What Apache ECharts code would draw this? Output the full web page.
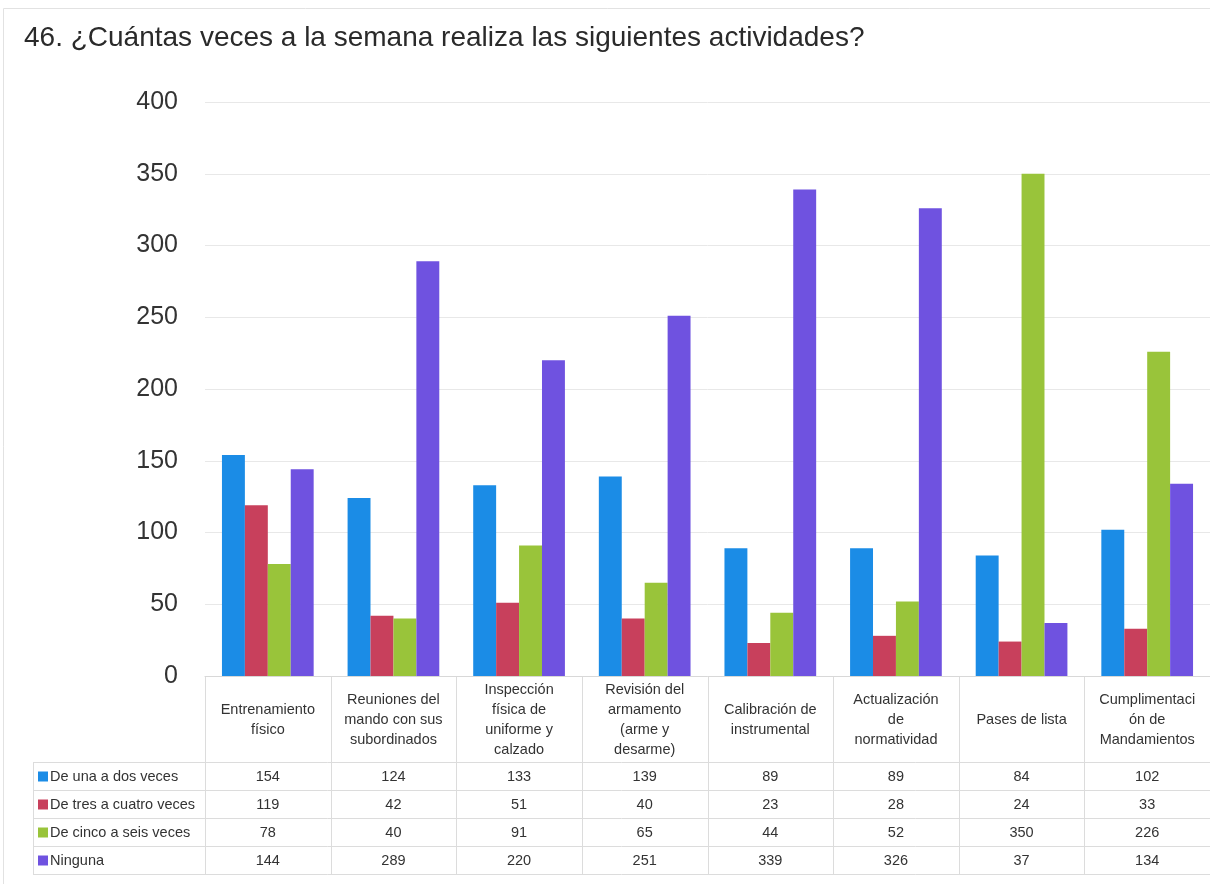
<!DOCTYPE html>
<html>
<head>
<meta charset="utf-8">
<script src="https://cdn.jsdelivr.net/npm/echarts@6/dist/echarts.min.js"></script>
<style>
html,body{margin:0;padding:0;background:#fff;}
#chart{width:1210px;height:884px;}
</style>
</head>
<body>
<div id="chart"></div>
<script>
const titleText = '46. ¿Cuántas veces a la semana realiza las siguientes actividades?';
const categories = [
  'Entrenamiento\nfísico',
  'Reuniones del\nmando con sus\nsubordinados',
  'Inspección\nfísica de\nuniforme y\ncalzado',
  'Revisión del\narmamento\n(arme y\ndesarme)',
  'Calibración de\ninstrumental',
  'Actualización\nde\nnormatividad',
  'Pases de lista',
  'Cumplimentaci\nón de\nMandamientos'
];
const seriesNames = ['De una a dos veces', 'De tres a cuatro veces', 'De cinco a seis veces', 'Ninguna'];
const unaADos = [154, 124, 133, 139, 89, 89, 84, 102];
const tresACuatro = [119, 42, 51, 40, 23, 28, 24, 33];
const cincoASeis = [78, 40, 91, 65, 44, 52, 350, 226];
const ninguna = [144, 289, 220, 251, 339, 326, 37, 134];
const yTicks = [0, 50, 100, 150, 200, 250, 300, 350, 400];

const allValues = [unaADos, tresACuatro, cincoASeis, ninguna];
const colors = ['#1b8ce6', '#c8405c', '#99c43a', '#6f52e0'];
const FONT = '"Liberation Sans", Arial, sans-serif';

const chart = echarts.init(document.getElementById('chart'), null, {renderer: 'canvas'});
const option = {
  backgroundColor: '#fff',
  animation: false,
  title: {
    text: titleText,
    left: 19, top: 19,
    textStyle: {fontFamily: FONT, fontSize: 28, fontWeight: 'normal', color: '#2a2a2a'}
  },
  grid: {left: 205, right: 0, top: 102, bottom: 208},
  xAxis: {
    type: 'category',
    data: categories,
    axisLabel: {show: false},
    axisTick: {show: false},
    axisLine: {show: true, lineStyle: {color: '#d8d8d8'}}
  },
  yAxis: {
    type: 'value',
    min: yTicks[0], max: yTicks[yTicks.length - 1], interval: 50,
    axisLabel: {fontFamily: FONT, fontSize: 25, color: '#333', margin: 27},
    axisLine: {show: false}, axisTick: {show: false},
    splitLine: {lineStyle: {color: '#e8e8e8'}}
  },
  series: seriesNames.map((name, i) => ({
    name, type: 'bar', data: allValues[i],
    barGap: '0%', barCategoryGap: '27%',
    itemStyle: {color: colors[i]}
  }))
};
chart.setOption(option);

// data table below the plot
const els = [];
const c0 = chart.convertToPixel({xAxisIndex: 0}, 0);
const c1 = chart.convertToPixel({xAxisIndex: 0}, 1);
const bw = c1 - c0;
const yBase = chart.convertToPixel({yAxisIndex: 0}, 0);
const headerH = 86, rowH = 28;
const tableLeft = 33;
const rightEdge = c0 - bw / 2 + bw * categories.length;
const lineColor = '#dcdcdc';
const rowsTop = yBase + headerH;
const TFS = 14.5;
for (let r = 0; r <= seriesNames.length; r++) {
  const y = Math.round(rowsTop + r * rowH) + 0.5;
  els.push({type: 'line', shape: {x1: tableLeft, y1: y, x2: rightEdge, y2: y}, style: {stroke: lineColor, lineWidth: 1}});
}
for (let i = 0; i <= categories.length; i++) {
  const x = Math.round(c0 - bw / 2 + i * bw) + 0.5;
  els.push({type: 'line', shape: {x1: x, y1: yBase, x2: x, y2: rowsTop + seriesNames.length * rowH}, style: {stroke: lineColor, lineWidth: 1}});
}
els.push({type: 'line', shape: {x1: tableLeft + 0.5, y1: rowsTop, x2: tableLeft + 0.5, y2: rowsTop + seriesNames.length * rowH}, style: {stroke: lineColor, lineWidth: 1}});
categories.forEach((cat, i) => {
  const cx = chart.convertToPixel({xAxisIndex: 0}, i);
  els.push({type: 'text', x: cx, y: yBase + headerH / 2 + 1, style: {
    text: cat, fontFamily: FONT, fontSize: TFS, lineHeight: 20, fill: '#333',
    align: 'center', verticalAlign: 'middle'
  }});
});
seriesNames.forEach((name, r) => {
  const cy = rowsTop + r * rowH + rowH / 2 + 0.5;
  els.push({type: 'rect', shape: {x: 38, y: cy - 5, width: 10, height: 10}, style: {fill: colors[r]}});
  els.push({type: 'text', x: 50, y: cy, style: {text: name, fontFamily: FONT, fontSize: TFS, fill: '#333', align: 'left', verticalAlign: 'middle'}});
  allValues[r].forEach((v, i) => {
    const cx = chart.convertToPixel({xAxisIndex: 0}, i);
    els.push({type: 'text', x: cx, y: cy, style: {text: String(v), fontFamily: FONT, fontSize: TFS, fill: '#333', align: 'center', verticalAlign: 'middle'}});
  });
});
els.push({type: 'rect', shape: {x: 3.5, y: 8.5, width: 1220, height: 880}, style: {fill: 'none', stroke: '#e2e2e2', lineWidth: 1}});
chart.setOption({graphic: {elements: els}});
</script>
</body>
</html>
